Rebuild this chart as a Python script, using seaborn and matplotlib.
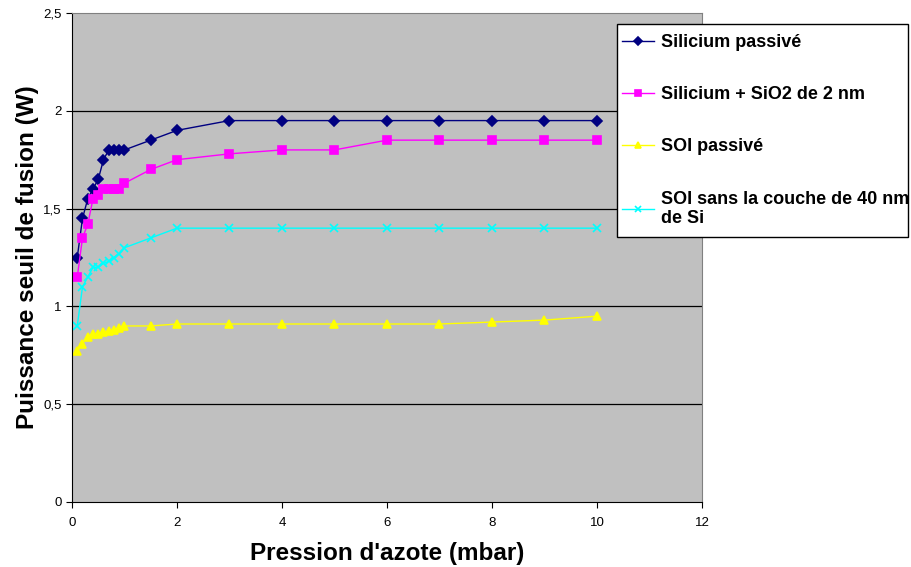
import pandas as pd
import matplotlib
matplotlib.use("Agg")
import matplotlib.pyplot as plt
import seaborn as sns
from matplotlib.patches import Rectangle

# pressure values (mbar)
pression = [0.1, 0.2, 0.3, 0.4, 0.5, 0.6, 0.7, 0.8, 0.9, 1.0,
            1.5, 2, 3, 4, 5, 6, 7, 8, 9, 10]

si_passive = [1.25, 1.45, 1.55, 1.60, 1.65, 1.75, 1.80, 1.80, 1.80, 1.80,
              1.85, 1.90, 1.95, 1.95, 1.95, 1.95, 1.95, 1.95, 1.95, 1.95]
si_sio2 = [1.15, 1.35, 1.42, 1.55, 1.57, 1.60, 1.60, 1.60, 1.60, 1.63,
           1.70, 1.75, 1.78, 1.80, 1.80, 1.85, 1.85, 1.85, 1.85, 1.85]
soi_passive = [0.77, 0.81, 0.845, 0.86, 0.86, 0.87, 0.875, 0.88, 0.89, 0.90,
               0.90, 0.91, 0.91, 0.91, 0.91, 0.91, 0.91, 0.92, 0.93, 0.95]
soi_sans_si = [0.90, 1.10, 1.15, 1.20, 1.20, 1.22, 1.23, 1.25, 1.27, 1.30,
               1.35, 1.40, 1.40, 1.40, 1.40, 1.40, 1.40, 1.40, 1.40, 1.40]

labels = ["Silicium passivé", "Silicium + SiO2 de 2 nm", "SOI passivé",
          "SOI sans la couche de 40 nm\nde Si"]
colors = ["#000080", "#FF00FF", "#FFFF00", "#00FFFF"]
markers = ["D", "s", "^", "x"]
msizes = [4.8, 5.5, 5.5, 5.5]

df = pd.concat([
    pd.DataFrame({"p": pression, "w": vals, "serie": lab})
    for vals, lab in zip([si_passive, si_sio2, soi_passive, soi_sans_si], labels)
])

plt.rcParams["font.family"] = ["Liberation Sans", "DejaVu Sans"]

fig = plt.figure(figsize=(9.12, 5.67), dpi=100)
ax = fig.add_axes([72 / 912, 65 / 567, 630 / 912, 489 / 567])
ax.set_facecolor("#C0C0C0")

for lab, col, mk, ms in zip(labels, colors, markers, msizes):
    sns.lineplot(data=df[df["serie"] == lab], x="p", y="w", ax=ax,
                 color=col, marker=mk, markersize=ms, markeredgecolor=col,
                 markeredgewidth=1.2, linewidth=1, label=lab, sort=False)

ax.set_xlim(0, 12)
ax.set_ylim(0, 2.5)
ax.set_xticks(range(0, 13, 2))
yt = [0, 0.5, 1, 1.5, 2, 2.5]
ax.set_yticks(yt)
ax.set_yticklabels(["0", "0,5", "1", "1,5", "2", "2,5"])
ax.tick_params(labelsize=9.5, direction="out", length=4, color="black")
ax.tick_params(axis="x", pad=7)
for y in yt[1:-1]:
    ax.axhline(y, color="black", linewidth=0.9, zorder=0.5)
for side in ["top", "right"]:
    ax.spines[side].set_color("#808080")
for side in ["left", "bottom"]:
    ax.spines[side].set_color("#000000")

ax.set_xlabel("Pression d'azote (mbar)", fontsize=17.5, fontweight="bold", labelpad=9)
ax.set_ylabel("Puissance seuil de fusion (W)", fontsize=17.5, fontweight="bold", labelpad=3)

handles, labs = ax.get_legend_handles_labels()
ax.get_legend().remove()

# legend box drawn by hand so it keeps the Excel size
fig.patches.append(Rectangle((617 / 912, 1 - 237 / 567), 291 / 912, 213 / 567,
                             transform=fig.transFigure, facecolor="white",
                             edgecolor="black", linewidth=1, zorder=1))
leg = fig.legend(handles, labs, loc="upper left", bbox_to_anchor=(622 / 912, 1 - 34 / 567),
                 frameon=False, prop={"weight": "bold", "size": 13},
                 labelspacing=1.95, handlelength=1.8, handletextpad=0.35, borderpad=0,
                 markerscale=0.85, borderaxespad=0)
leg.set_zorder(2)

fig.savefig("out.png", dpi=100)
